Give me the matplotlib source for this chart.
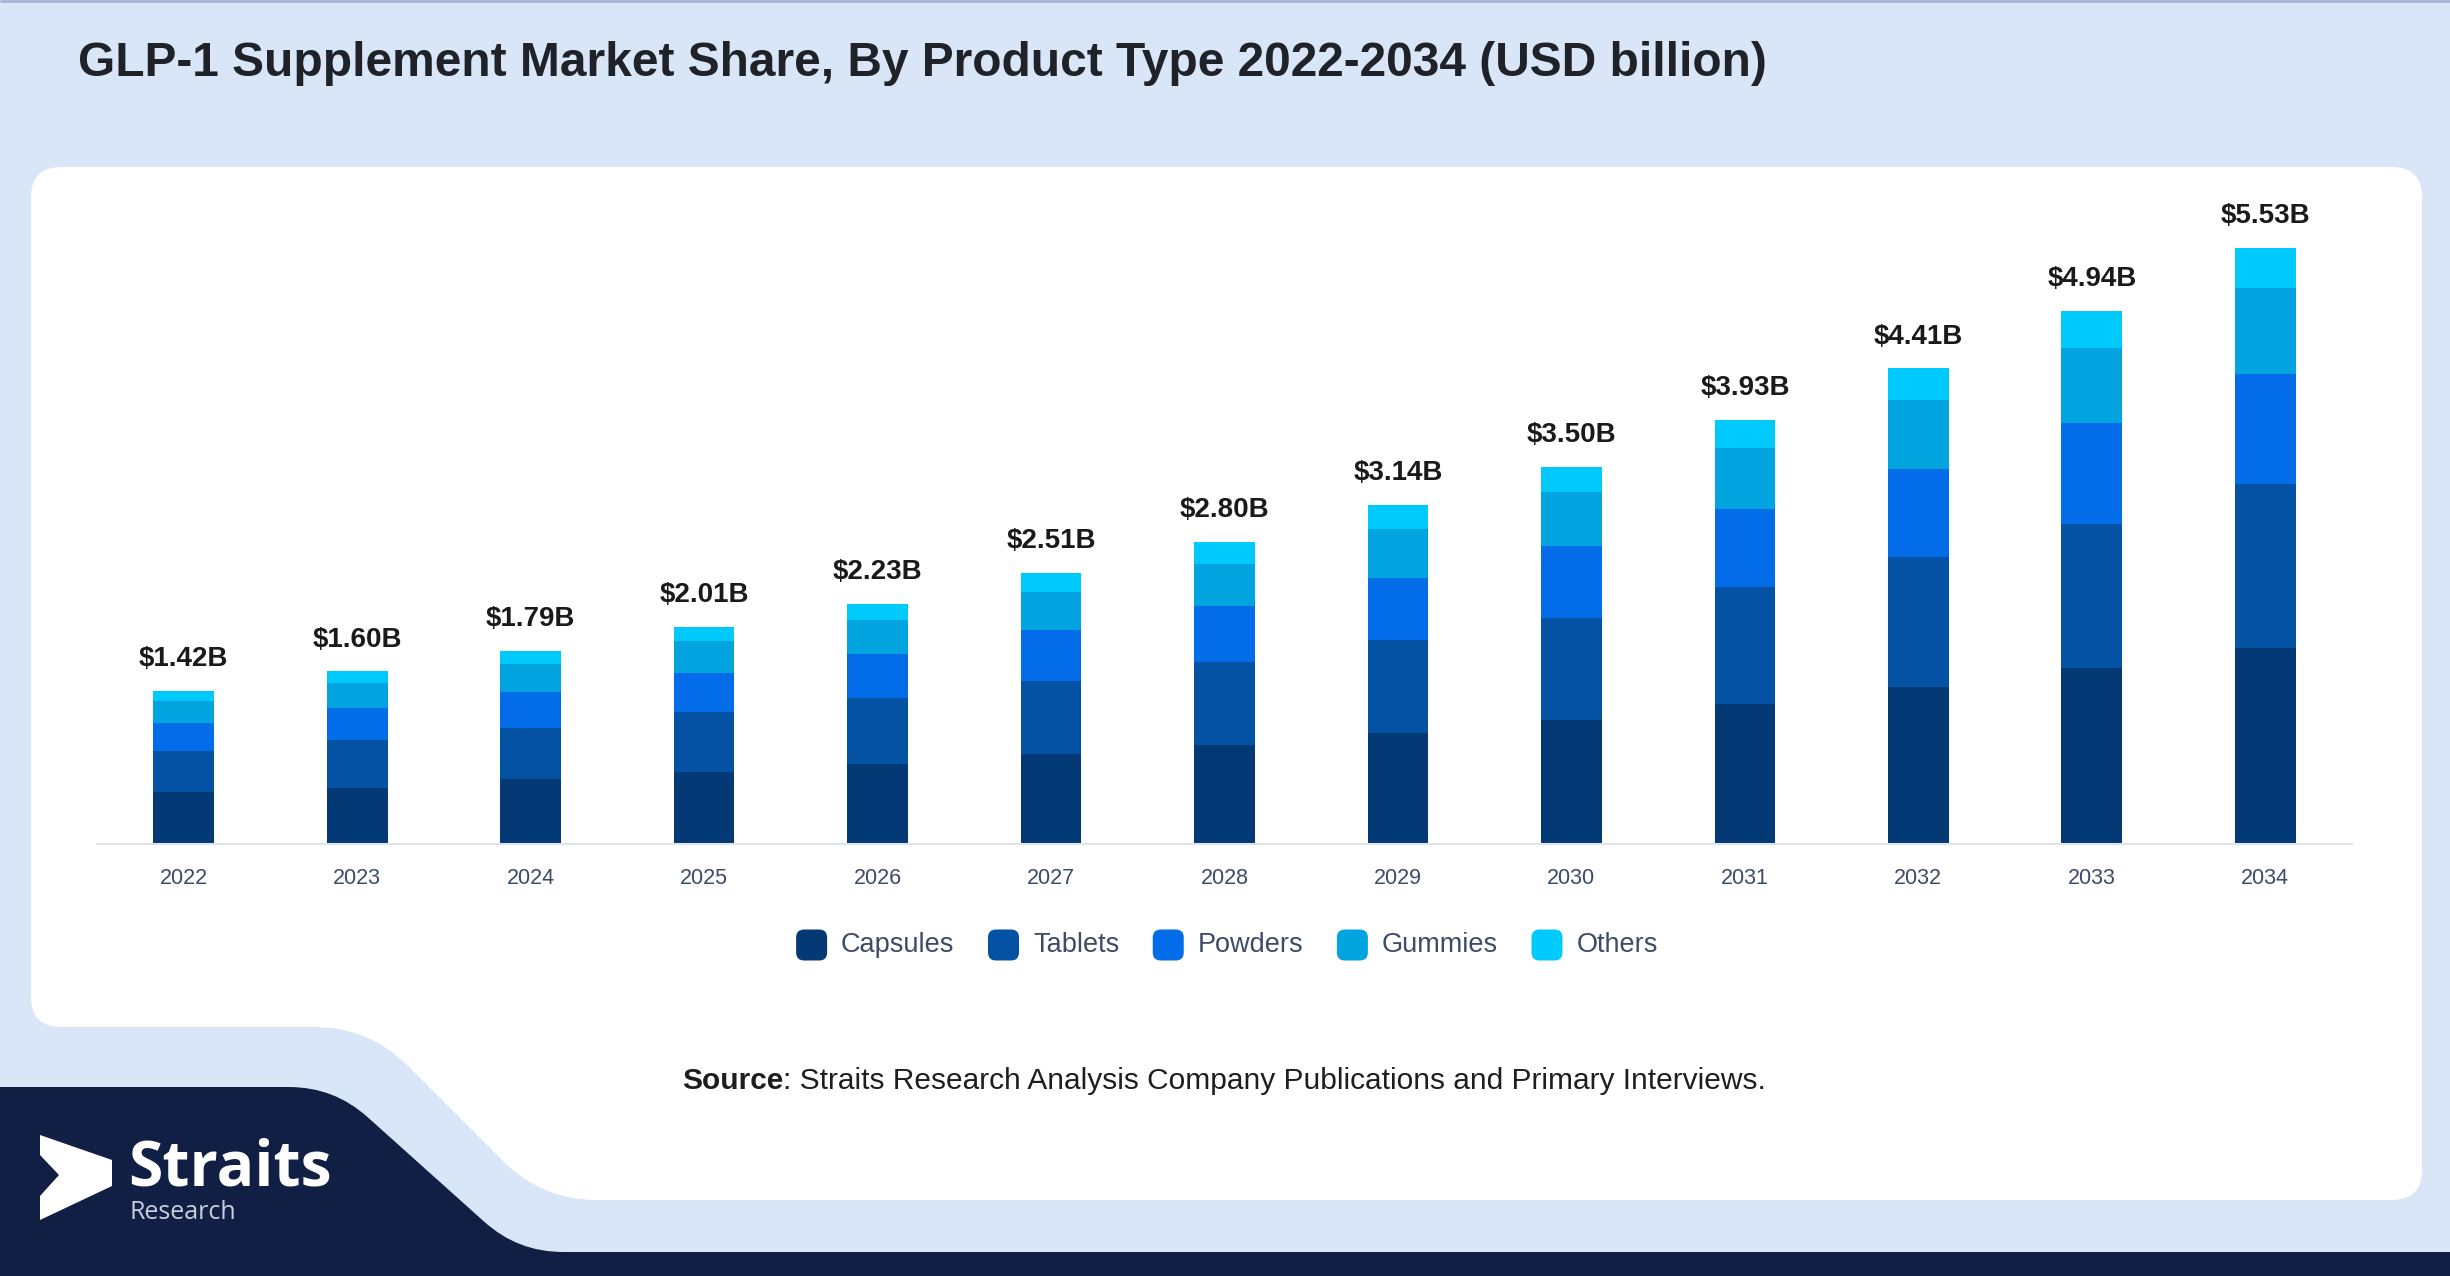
import matplotlib
matplotlib.use('Agg')
import matplotlib.pyplot as plt
from matplotlib.patches import FancyBboxPatch, PathPatch, Polygon
from matplotlib.path import Path
import numpy as np

plt.rcParams['font.family'] = ['Liberation Sans', 'DejaVu Sans']

# ---------------- data ----------------
years = ['2022', '2023', '2024', '2025', '2026', '2027', '2028',
         '2029', '2030', '2031', '2032', '2033', '2034']
categories = ['Capsules', 'Tablets', 'Powders', 'Gummies', 'Others']
capsules = [0.48, 0.52, 0.60, 0.67, 0.74, 0.83, 0.92, 1.03, 1.15, 1.30, 1.46, 1.63, 1.82]
tablets  = [0.38, 0.44, 0.48, 0.55, 0.61, 0.68, 0.77, 0.86, 0.95, 1.08, 1.20, 1.34, 1.52]
powders  = [0.26, 0.30, 0.33, 0.37, 0.41, 0.47, 0.52, 0.58, 0.66, 0.73, 0.82, 0.93, 1.02]
gummies  = [0.21, 0.23, 0.26, 0.29, 0.32, 0.36, 0.39, 0.45, 0.50, 0.56, 0.64, 0.70, 0.80]
others   = [0.09, 0.11, 0.12, 0.13, 0.15, 0.17, 0.20, 0.22, 0.24, 0.26, 0.29, 0.34, 0.37]
series = [capsules, tablets, powders, gummies, others]
colors = ['#033a76', '#0352a3', '#036ce9', '#02a4e0', '#00c9fb']

title = 'GLP-1 Supplement Market Share, By Product Type 2022-2034 (USD billion)'
source_bold = 'Source'
source_rest = ': Straits Research Analysis Company Publications and Primary Interviews.'

# ---------------- figure ----------------
W, H = 2450, 1276
fig = plt.figure(figsize=(W / 100, H / 100), dpi=100)
fig.patch.set_facecolor('#d9e6f8')
bg = fig.add_axes([0, 0, 1, 1])
bg.set_xlim(0, W)
bg.set_ylim(H, 0)
bg.axis('off')
bg.set_zorder(0)


def rounded_path(verts, radii):
    n = len(verts)
    pts, codes = [], []
    for i in range(n):
        P = np.array(verts[i - 1], float)
        V = np.array(verts[i], float)
        N = np.array(verts[(i + 1) % n], float)
        r = radii[i]
        a = V + (P - V) / np.linalg.norm(P - V) * r
        b = V + (N - V) / np.linalg.norm(N - V) * r
        pts.append(a)
        codes.append(Path.MOVETO if i == 0 else Path.LINETO)
        pts += [V, b]
        codes += [Path.CURVE3, Path.CURVE3]
    pts.append(pts[0])
    codes.append(Path.CLOSEPOLY)
    return Path(pts, codes)


# white panel
panel = rounded_path([(31, 167), (2422, 167), (2422, 1200), (542, 1200), (369, 1027), (31, 1027)],
                     [30, 30, 30, 55, 55, 30])
bg.add_patch(PathPatch(panel, facecolor='white', edgecolor='none'))

# dark footer shape
dark = rounded_path([(0, 1087), (334, 1087), (518, 1252), (2450, 1252), (2450, 1276), (0, 1276)],
                    [0.01, 45, 45, 0.01, 0.01, 0.01])
bg.add_patch(PathPatch(dark, facecolor='#121f45', edgecolor='none'))

# top thin line
bg.plot([0, W], [1, 1], color='#a7b4d2', lw=2, solid_capstyle='butt')

# logo
arrow = Polygon([(40, 1135), (112, 1160), (112, 1186), (40, 1220), (40, 1196), (59, 1175), (40, 1155)],
                closed=True, facecolor='white', edgecolor='none')
bg.add_patch(arrow)
bg.text(128, 1186, 'Straits', fontsize=45, fontweight='bold', color='white',
        family=['Open Sans', 'DejaVu Sans'], ha='left', va='baseline')
bg.text(130, 1219, 'Research', fontsize=18, color='#c9cfdd',
        family=['Open Sans', 'DejaVu Sans'], ha='left', va='baseline')

# title
bg.text(78, 64, title, fontsize=34.5, fontweight='bold', color='#1f2329', ha='left', va='center')

# ---------------- chart ----------------
base_px, top_px, left_px, right_px = 844, 197, 97, 2352
ax = fig.add_axes([left_px / W, (H - base_px) / H, (right_px - left_px) / W, (base_px - top_px) / H])
ax.set_zorder(1)
ax.patch.set_alpha(0)
x = np.arange(len(years))
bottom = np.zeros(len(years))
for vals, c, name in zip(series, colors, categories):
    ax.bar(x, vals, width=0.35, bottom=bottom, color=c, linewidth=0, label=name)
    bottom = bottom + np.array(vals)
for xi, t in zip(x, bottom):
    ax.annotate(f'${t:.2f}B', (xi, t), xytext=(0, 23), textcoords='offset points',
                ha='center', va='center', fontsize=20, fontweight='bold', color='#1a1a1a')
ax.set_xlim(-0.5, len(years) - 0.5)
ax.set_ylim(0, 6)
for s in ['top', 'right', 'left']:
    ax.spines[s].set_visible(False)
ax.spines['bottom'].set_color('#dfe3ea')
ax.spines['bottom'].set_linewidth(1.5)
ax.set_yticks([])
ax.set_xticks(x)
ax.set_xticklabels(years)
ax.tick_params(axis='x', length=0, pad=17, labelsize=15.5, labelcolor='#3d4b66')

# ---------------- legend (manual) ----------------
renderer = fig.canvas.get_renderer()
leg_y = 945
msize = 31
gap_in = 14
gap_out = 33.5
texts = []
widths = []
for name in categories:
    t = bg.text(0, leg_y, name, fontsize=19.5, color='#3d4b66', ha='left', va='center')
    texts.append(t)
    widths.append(t.get_window_extent(renderer).width)
total = sum(msize + gap_in + w for w in widths) + gap_out * (len(categories) - 1)
cx = W / 2 - total / 2 + 2
for t, w, c in zip(texts, widths, colors):
    bg.add_patch(FancyBboxPatch((cx + 4, leg_y - msize / 2 + 4), msize - 8, msize - 8,
                                boxstyle='round,pad=4,rounding_size=8',
                                facecolor=c, edgecolor='none'))
    t.set_x(cx + msize + gap_in)
    cx += msize + gap_in + w + gap_out

# ---------------- source ----------------
sb = bg.text(0, 1081, source_bold, fontsize=21.5, fontweight='bold', color='#1e1e1e', ha='left', va='center')
sr = bg.text(0, 1081, source_rest, fontsize=21.5, color='#1e1e1e', ha='left', va='center')
wb = sb.get_window_extent(renderer).width
wr = sr.get_window_extent(renderer).width
sx = 1224 - (wb + wr) / 2
sb.set_x(sx)
sr.set_x(sx + wb)

fig.savefig('out.png', dpi=100, facecolor=fig.get_facecolor())
